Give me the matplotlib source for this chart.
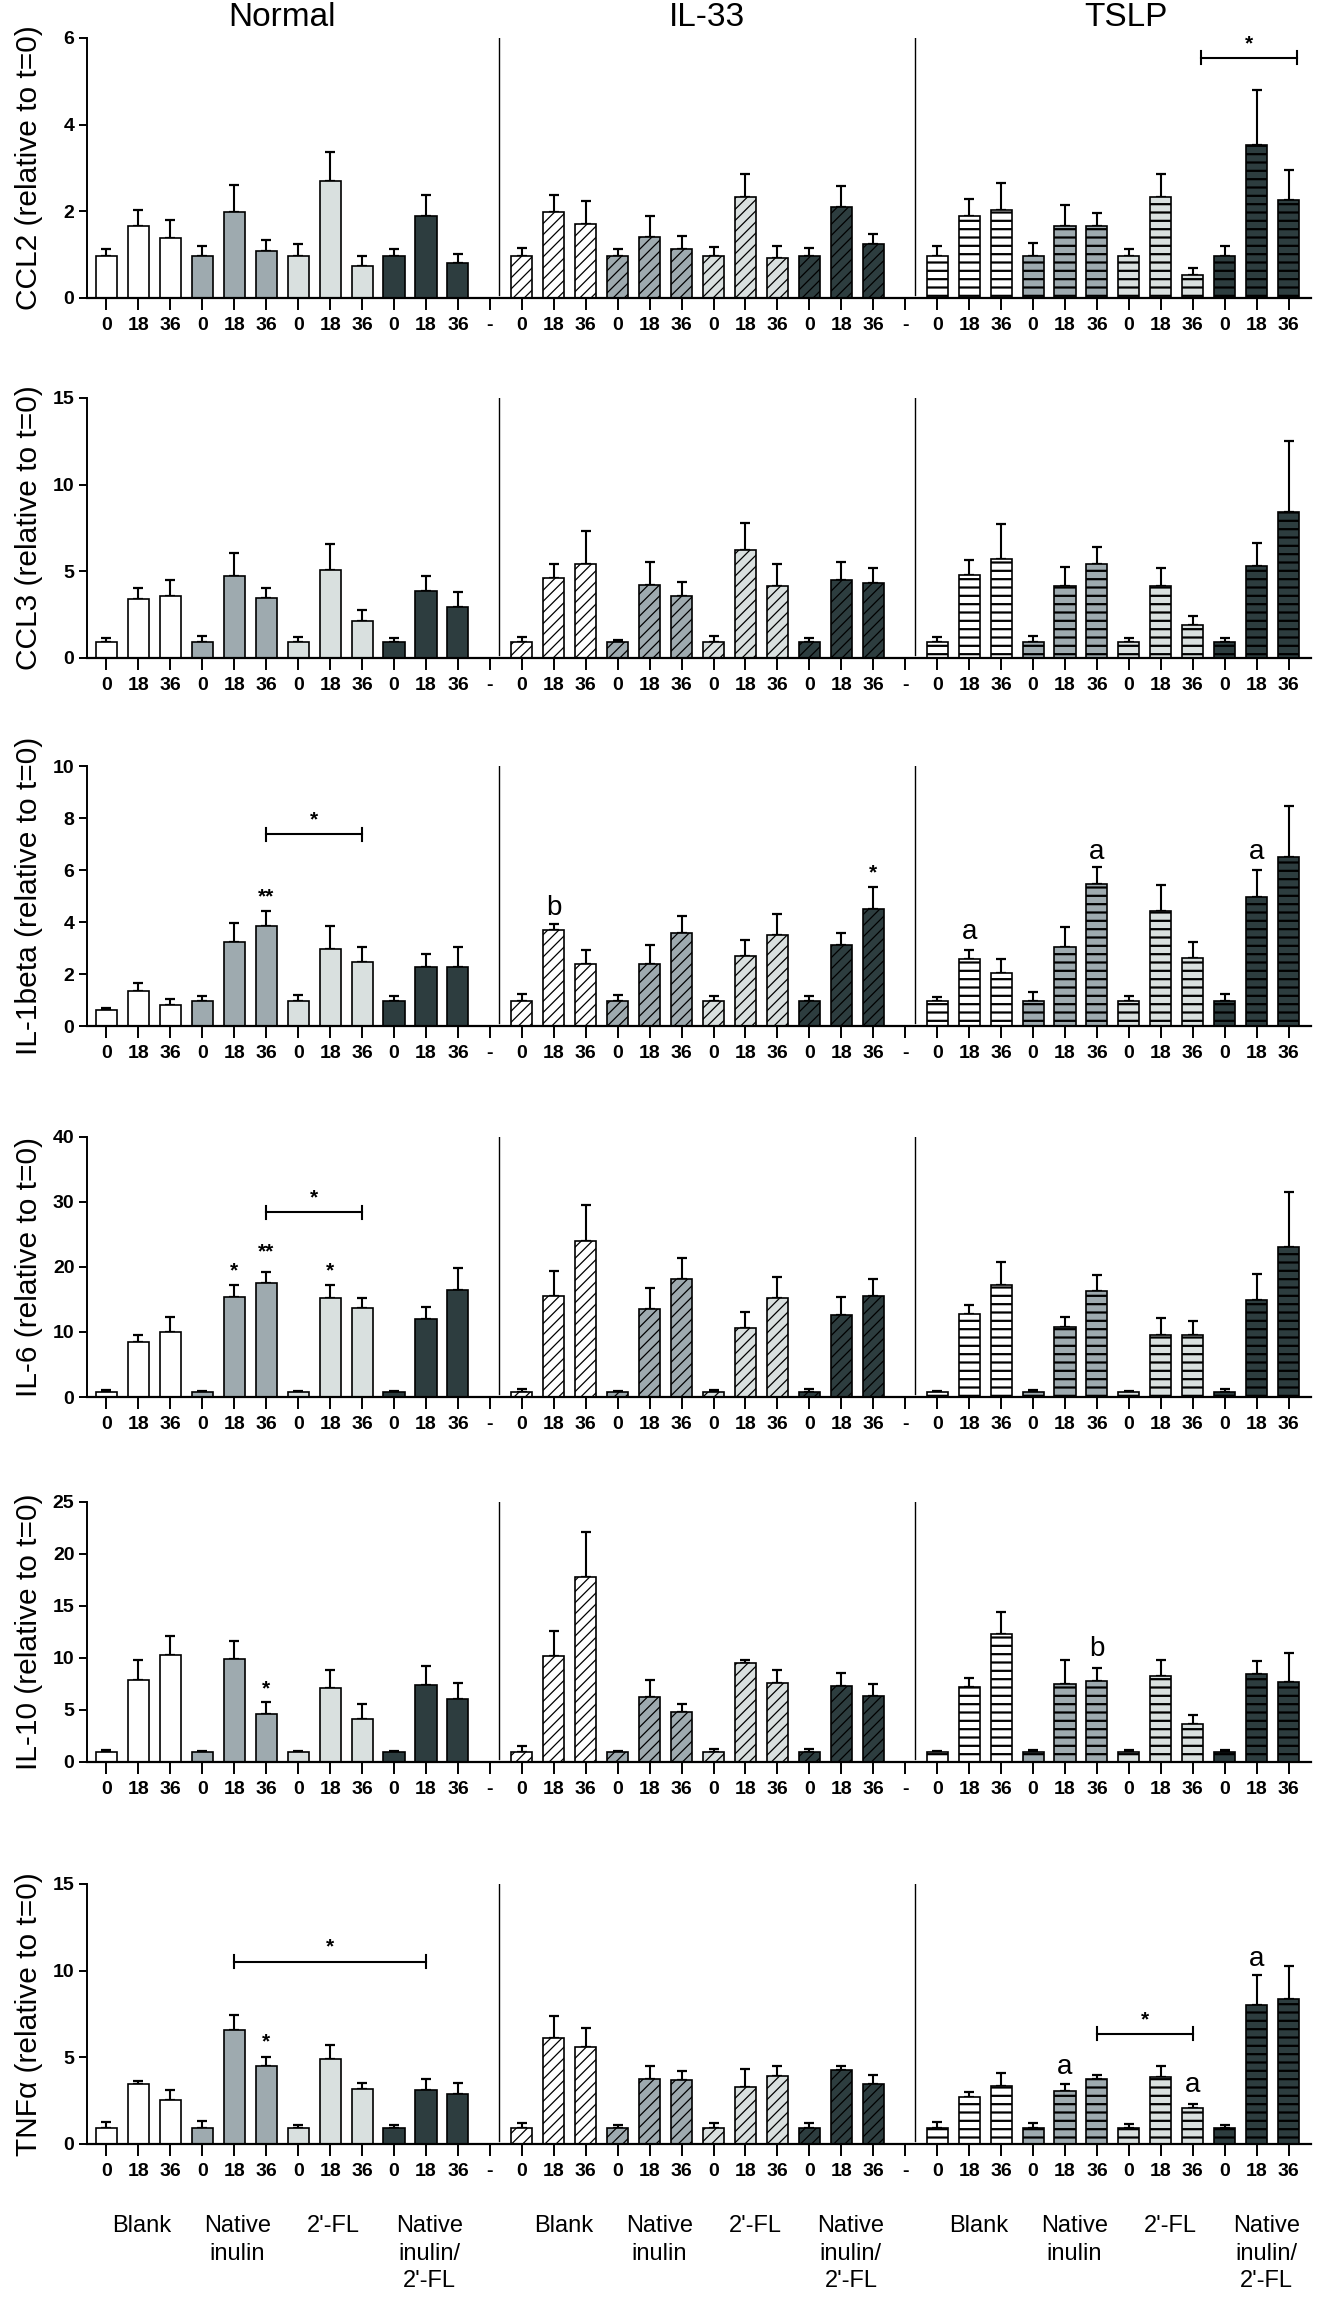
import numpy as np
import matplotlib
matplotlib.use("Agg")
import matplotlib.pyplot as plt

plt.rcParams['font.family'] = ['Liberation Sans', 'DejaVu Sans']
plt.rcParams['hatch.linewidth'] = 1.2

# categories
conditions = ['Normal', 'IL-33', 'TSLP']
treatments = ['Blank', 'Native\ninulin', "2'-FL", 'Native\ninulin/\n2\'-FL']
times = ['0', '18', '36']

# values per panel: Normal (12), IL-33 (12), TSLP (12); order Blank, Native inulin, 2'-FL, Native inulin/2'-FL x 0/18/36 h
ccl2_mean = [0.98, 1.67, 1.39, 0.98, 1.99, 1.09, 0.98, 2.71, 0.74, 0.98, 1.90, 0.80,
             0.98, 1.99, 1.71, 0.98, 1.40, 1.14, 0.98, 2.32, 0.93, 0.98, 2.10, 1.25,
             0.98, 1.90, 2.02, 0.98, 1.66, 1.66, 0.97, 2.33, 0.52, 0.98, 3.53, 2.27]
ccl2_err = [0.15, 0.37, 0.41, 0.22, 0.62, 0.26, 0.26, 0.66, 0.22, 0.16, 0.48, 0.21,
            0.18, 0.39, 0.54, 0.15, 0.49, 0.28, 0.20, 0.55, 0.28, 0.17, 0.49, 0.23,
            0.23, 0.38, 0.63, 0.28, 0.48, 0.31, 0.17, 0.54, 0.17, 0.21, 1.28, 0.68]

ccl3_mean = [0.95, 3.40, 3.60, 0.95, 4.75, 3.45, 0.95, 5.05, 2.15, 0.95, 3.85, 2.95,
             0.95, 4.60, 5.40, 0.95, 4.20, 3.55, 0.95, 6.25, 4.15, 0.95, 4.50, 4.30,
             0.95, 4.80, 5.70, 0.95, 4.15, 5.40, 0.95, 4.15, 1.90, 0.95, 5.30, 8.40]
ccl3_err = [0.20, 0.65, 0.90, 0.30, 1.30, 0.60, 0.25, 1.55, 0.60, 0.20, 0.90, 0.85,
            0.25, 0.80, 1.90, 0.10, 1.35, 0.85, 0.30, 1.55, 1.30, 0.20, 1.05, 0.90,
            0.25, 0.85, 2.05, 0.30, 1.10, 1.00, 0.20, 1.05, 0.50, 0.20, 1.35, 4.10]

il1b_mean = [0.62, 1.36, 0.79, 0.97, 3.22, 3.83, 0.97, 2.96, 2.45, 0.97, 2.27, 2.27,
             0.97, 3.70, 2.38, 0.97, 2.40, 3.58, 0.97, 2.70, 3.49, 0.97, 3.13, 4.50,
             0.97, 2.58, 2.02, 0.97, 3.03, 5.47, 0.97, 4.41, 2.63, 0.97, 4.98, 6.49]
il1b_err = [0.08, 0.28, 0.24, 0.17, 0.75, 0.58, 0.22, 0.90, 0.59, 0.20, 0.49, 0.78,
            0.26, 0.23, 0.56, 0.22, 0.70, 0.65, 0.19, 0.60, 0.81, 0.19, 0.46, 0.83,
            0.15, 0.36, 0.57, 0.33, 0.79, 0.63, 0.19, 1.02, 0.60, 0.26, 1.02, 1.98]

il6_mean = [0.7, 8.4, 10.0, 0.7, 15.4, 17.6, 0.7, 15.3, 13.7, 0.7, 12.0, 16.5,
            0.7, 15.6, 24.0, 0.7, 13.6, 18.1, 0.7, 10.6, 15.3, 0.7, 12.6, 15.6,
            0.7, 12.8, 17.2, 0.7, 10.7, 16.3, 0.7, 9.6, 9.6, 0.7, 15.0, 23.1]
il6_err = [0.4, 1.1, 2.3, 0.2, 1.9, 1.6, 0.3, 2.0, 1.6, 0.3, 1.8, 3.3,
           0.5, 3.8, 5.5, 0.2, 3.1, 3.3, 0.4, 2.5, 3.2, 0.5, 2.8, 2.6,
           0.3, 1.4, 3.6, 0.4, 1.6, 2.5, 0.3, 2.6, 2.1, 0.6, 4.0, 8.4]

il10_mean = [0.93, 7.90, 10.25, 0.93, 9.90, 4.63, 0.93, 7.15, 4.18, 0.93, 7.38, 6.03,
             0.93, 10.20, 17.75, 0.93, 6.26, 4.76, 0.93, 9.55, 7.60, 0.93, 7.31, 6.32,
             0.93, 7.25, 12.26, 0.93, 7.47, 7.82, 0.93, 8.27, 3.70, 0.93, 8.46, 7.66]
il10_err = [0.22, 1.90, 1.85, 0.12, 1.70, 1.12, 0.15, 1.73, 1.38, 0.15, 1.85, 1.54,
            0.60, 2.44, 4.41, 0.15, 1.63, 0.86, 0.35, 0.25, 1.24, 0.28, 1.28, 1.15,
            0.15, 0.80, 2.20, 0.22, 2.30, 1.25, 0.22, 1.50, 0.83, 0.22, 1.21, 2.81]

tnf_mean = [0.94, 3.48, 2.53, 0.94, 6.56, 4.50, 0.94, 4.92, 3.19, 0.94, 3.12, 2.89,
            0.94, 6.12, 5.59, 0.94, 3.73, 3.67, 0.94, 3.27, 3.92, 0.94, 4.29, 3.46,
            0.94, 2.70, 3.35, 0.94, 3.08, 3.73, 0.94, 3.88, 2.10, 0.94, 8.04, 8.34]
tnf_err = [0.32, 0.17, 0.61, 0.36, 0.88, 0.53, 0.15, 0.80, 0.35, 0.17, 0.63, 0.63,
           0.30, 1.28, 1.11, 0.17, 0.75, 0.54, 0.28, 1.05, 0.56, 0.28, 0.19, 0.54,
           0.32, 0.32, 0.74, 0.28, 0.36, 0.27, 0.21, 0.62, 0.21, 0.17, 1.70, 1.93]

panel_labels = ['CCL2', 'CCL3', 'IL-1beta', 'IL-6', 'IL-10', 'TNF\u03b1']
panel_means = [ccl2_mean, ccl3_mean, il1b_mean, il6_mean, il10_mean, tnf_mean]
panel_errs = [ccl2_err, ccl3_err, il1b_err, il6_err, il10_err, tnf_err]
panel_ymax = [6, 15, 10, 40, 25, 15]
panel_ystep = [2, 5, 2, 10, 5, 5]

# significance marks: (panel, x position, y, text)
marks = [(2, 5, 4.95, '**'), (2, 14, 4.55, 'b'), (2, 24, 5.9, '*'),
         (2, 27, 3.6, 'a'), (2, 31, 6.7, 'a'), (2, 36, 6.7, 'a'),
         (3, 4, 19.4, '*'), (3, 5, 22.3, '**'), (3, 7, 19.4, '*'),
         (4, 5, 7.05, '*'), (4, 31, 10.9, 'b'),
         (5, 5, 5.87, '*'), (5, 30, 4.45, 'a'), (5, 34, 3.4, 'a'), (5, 36, 10.65, 'a')]
# brackets: (panel, x start, x end, y)
brackets = [(0, 34.25, 37.25, 5.54), (2, 5, 8, 7.38), (3, 5, 8, 28.4),
            (5, 4, 10, 10.52), (5, 31, 34, 6.35)]

colors = ['white', '#9eaaaf', '#d9e0df', '#2d3d3f']
hatches = ['', '///', '--']
hatch_lw = [1.0, 0.9, 1.6]

# x positions: 12 bars per condition with a '-' slot between conditions
pos = []
for c in range(3):
    pos += [c * 13 + i for i in range(12)]
pos = np.array(pos)
sep_pos = [12, 25]
all_ticks = np.arange(38)
tick_labels = []
for c in range(3):
    tick_labels += times * 4
    if c < 2:
        tick_labels.append('-')

fig = plt.figure(figsize=(13.18, 22.99), dpi=100)
H = 2299.0
bottoms = [298, 658, 1026, 1397, 1762, 2144]
ax_h = 260 / H
axes = []
for k in range(6):
    ax = fig.add_axes([0.066, 1 - bottoms[k] / H, 0.9287, ax_h])
    axes.append(ax)
    means = panel_means[k]
    errs = panel_errs[k]
    for c in range(3):
        for g in range(4):
            idx = [c * 12 + g * 3 + t for t in range(3)]
            xs = pos[idx]
            ms = [means[i] for i in idx]
            es = [errs[i] for i in idx]
            ax.errorbar(xs, ms, yerr=[np.zeros(3), es], fmt='none', ecolor='black',
                        elinewidth=1.5, capsize=3.6, capthick=1.6, zorder=1)
            with plt.rc_context({'hatch.linewidth': hatch_lw[c]}):
                ax.bar(xs, ms, width=0.66, color=colors[g], edgecolor='black',
                       linewidth=1.2, hatch=hatches[c], zorder=2)
    for s in sep_pos:
        ax.axvline(s + 0.3, ymin=0.012, ymax=1, color='black', linewidth=1.0)
    ax.set_xlim(-0.61, 37.7)
    ax.set_ylim(0, panel_ymax[k])
    ax.set_yticks(np.arange(0, panel_ymax[k] + 0.1, panel_ystep[k]))
    ax.set_xticks(all_ticks)
    ax.set_xticklabels(tick_labels)
    for lab in ax.get_xticklabels() + ax.get_yticklabels():
        lab.set_fontweight('bold')
        lab.set_fontsize(14)
    ax.tick_params(axis='x', length=8.5, width=1.4, pad=5)
    ax.tick_params(axis='y', length=6, width=1.4, pad=3)
    ax.spines['top'].set_visible(False)
    ax.spines['right'].set_visible(False)
    ax.spines['left'].set_linewidth(1.4)
    ax.spines['bottom'].set_linewidth(1.6)
    ax.set_ylabel(panel_labels[k] + ' (relative to t=0)', fontsize=21.5)
    ax.yaxis.set_label_coords(-0.036, 0.5)

for k, x, y, t in marks:
    if t in ('a', 'b'):
        axes[k].text(x, y, t, ha='center', va='center', fontsize=20)
    else:
        axes[k].text(x, y, t, ha='center', va='center', fontsize=15, fontweight='bold')

for k, x0, x1, y in brackets:
    ax = axes[k]
    ymax = panel_ymax[k]
    ax.plot([x0, x1], [y, y], color='black', linewidth=1.5)
    ax.plot([x0, x0], [y - ymax * 0.025, y + ymax * 0.025], color='black', linewidth=1.5)
    ax.plot([x1, x1], [y - ymax * 0.025, y + ymax * 0.025], color='black', linewidth=1.5)
    ax.text((x0 + x1) / 2, y + ymax * 0.055, '*', ha='center', va='center',
            fontsize=15, fontweight='bold')

# condition titles
title_shift = [0, 0.3, 0.4]
for c, name in enumerate(conditions):
    axes[0].text(c * 13 + 5.5 + title_shift[c], 1.08, name, fontsize=24,
                 ha='center', va='center', transform=axes[0].get_xaxis_transform())

# treatment labels below the last panel
label_shift = [0.1, 0.3, 0.3]
for c in range(3):
    for g, name in enumerate(treatments):
        axes[5].text(c * 13 + g * 3 + 1 + label_shift[c], -0.275, name, fontsize=17,
                     ha='center', va='top', linespacing=1.3,
                     transform=axes[5].get_xaxis_transform())

fig.savefig('out.png', dpi=100)
